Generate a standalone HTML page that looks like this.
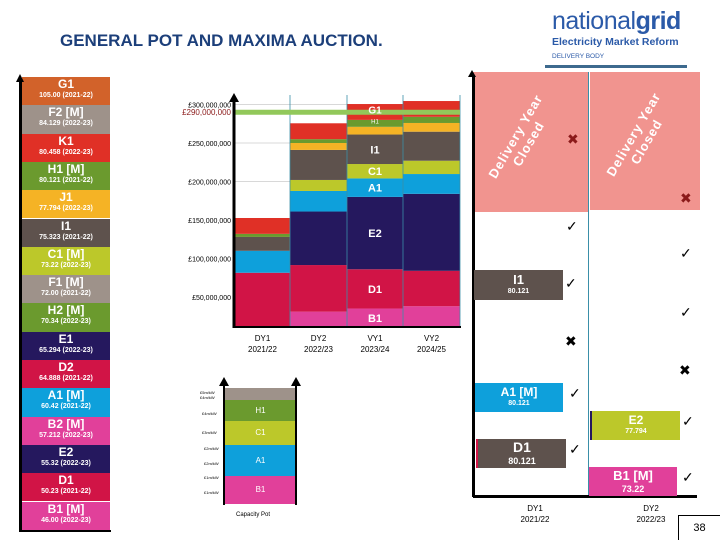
<!DOCTYPE html>
<html><head><meta charset="utf-8">
<style>
*{margin:0;padding:0;box-sizing:border-box}
body{width:720px;height:540px;position:relative;overflow:hidden;background:#fff;font-family:"Liberation Sans",sans-serif}
.abs{position:absolute}
.lb{position:absolute;left:22px;width:88px;color:#fff;text-align:center;font-weight:bold;overflow:hidden}
.lb .n{font-size:12px;line-height:13px;margin-top:1px}
.lb .s{font-size:7px;line-height:9px}
.box{position:absolute;color:#fff;text-align:center;font-weight:bold}
.mk{position:absolute;font-size:14px;color:#000}
.xl{position:absolute;font-size:8px;text-align:center;width:60px;line-height:11px}
.rot{position:absolute;width:120px;transform:translate(-50%,-50%) rotate(-60deg);color:#fff;font-weight:bold;font-size:13px;line-height:15px;text-align:center;letter-spacing:1px}
</style></head><body>
<div class="abs" style="left:60px;top:31px;font-size:17px;font-weight:bold;color:#1c3f7a">GENERAL POT AND MAXIMA AUCTION.</div>
<div class="abs" style="left:552px;top:6px;width:140px">
 <div style="font-size:25px;color:#2b5aa8;letter-spacing:-0.5px;line-height:30px">national<b>grid</b></div>
 <div style="font-size:10.5px;font-weight:bold;color:#2b5aa8;line-height:13px">Electricity Market Reform</div>
 <div style="font-size:6.5px;color:#2b5aa8;margin-top:4px">DELIVERY BODY</div>
</div>
<div class="abs" style="left:545px;top:65px;width:142px;height:3px;background:#3d6a8e"></div>

<div id="left"></div>
<div class="abs" style="left:19px;top:80px;width:3px;height:452px;background:#000"></div>
<div class="abs" style="left:19px;top:530px;width:92px;height:2px;background:#000"></div>
<div class="abs" style="left:16px;top:74px;width:0;height:0;border-left:4px solid transparent;border-right:4px solid transparent;border-bottom:8px solid #000"></div>

<svg id="chart" class="abs" style="left:0;top:0" width="720" height="540"></svg>

<div class="abs" style="left:473px;top:72px;width:115px;height:140px;background:#f1948f"></div>
<div class="abs" style="left:590px;top:72px;width:110px;height:138px;background:#f1948f"></div>
<div class="rot" style="left:522px;top:140px">Delivery Year<br>Closed</div>
<div class="rot" style="left:640px;top:138px">Delivery Year<br>Closed</div>
<div class="abs" style="left:472px;top:75px;width:3px;height:422px;background:#000"></div>
<div class="abs" style="left:468px;top:70px;border-left:4px solid transparent;border-right:4px solid transparent;border-bottom:7px solid #000"></div>
<div class="abs" style="left:588px;top:72px;width:1px;height:425px;background:#3a8fa8"></div>
<div class="abs" style="left:473px;top:495px;width:224px;height:3px;background:#000"></div>
<div class="mk" style="left:567px;top:131px;color:#8b1a1a">✖</div>
<div class="mk" style="left:680px;top:190px;color:#8b1a1a">✖</div>
<div class="mk" style="left:566px;top:218px">✓</div>
<div class="mk" style="left:680px;top:245px">✓</div>
<div class="mk" style="left:565px;top:275px">✓</div>
<div class="mk" style="left:680px;top:304px">✓</div>
<div class="mk" style="left:565px;top:333px">✖</div>
<div class="mk" style="left:679px;top:362px">✖</div>
<div class="box" style="left:474px;top:270px;width:89px;height:30px;background:#5e524d"><div style="font-size:13px;line-height:16px;margin-top:2px">I1</div><div style="font-size:7px">80.121</div></div>
<div class="box" style="left:475px;top:383px;width:88px;height:29px;background:#0ea0db"><div style="font-size:12px;line-height:15px;margin-top:2px">A1 [M]</div><div style="font-size:7px">80.121</div></div>
<div class="box" style="left:476px;top:439px;width:90px;height:29px;background:#5e524d;border-left:2px solid #d11446"><div style="font-size:14px;line-height:17px">D1</div><div style="font-size:9px">80.121</div></div>
<div class="box" style="left:590px;top:411px;width:90px;height:29px;background:#bcc82a;border-left:2px solid #25185e"><div style="font-size:12px;line-height:15px;margin-top:2px">E2</div><div style="font-size:7px">77.794</div></div>
<div class="box" style="left:589px;top:467px;width:88px;height:29px;background:#e1409a"><div style="font-size:13px;line-height:16px;margin-top:1px">B1 [M]</div><div style="font-size:9px">73.22</div></div>
<div class="mk" style="left:569px;top:385px">✓</div>
<div class="mk" style="left:569px;top:441px">✓</div>
<div class="mk" style="left:682px;top:413px">✓</div>
<div class="mk" style="left:682px;top:469px">✓</div>
<div class="xl" style="left:505px;top:503px">DY1<br>2021/22</div>
<div class="xl" style="left:621px;top:503px">DY2<br>2022/23</div>
<div class="abs" style="left:678px;top:515px;width:42px;height:25px;border-left:1px solid #000;border-top:1px solid #000;font-size:11px;text-align:center;line-height:24px">38</div>

<div class="abs" style="left:224px;top:388px;width:73px;height:116px;border:1px solid #000;border-top:none"></div>
<div class="abs" style="left:224px;top:388px;width:73px;height:12px;background:#9e928a"></div>
<div class="abs" style="left:224px;top:400px;width:73px;height:21px;background:#6b9a2e;color:#fff;font-size:8px;text-align:center;line-height:21px">H1</div>
<div class="abs" style="left:224px;top:421px;width:73px;height:24px;background:#bcc82a;color:#fff;font-size:8px;text-align:center;line-height:24px">C1</div>
<div class="abs" style="left:224px;top:445px;width:73px;height:31px;background:#0ea0db;color:#fff;font-size:8px;text-align:center;line-height:31px">A1</div>
<div class="abs" style="left:224px;top:476px;width:73px;height:28px;background:#e1409a;color:#fff;font-size:8px;text-align:center;line-height:28px">B1</div>
<div class="abs" style="left:223px;top:385px;width:2px;height:120px;background:#000"></div>
<div class="abs" style="left:295px;top:385px;width:2px;height:120px;background:#000"></div>
<div class="abs" style="left:219px;top:377px;border-left:5px solid transparent;border-right:5px solid transparent;border-bottom:9px solid #000"></div>
<div class="abs" style="left:291px;top:377px;border-left:5px solid transparent;border-right:5px solid transparent;border-bottom:9px solid #000"></div>
<div class="abs" style="left:236px;top:512px;font-size:6px">Capacity Pot</div>
<div class="abs" style="left:200px;top:390px;font-size:4px;line-height:5px">£5m/kW<br>£4m/kW</div>
<div class="abs" style="left:202px;top:411px;font-size:4px">£4m/kW</div>
<div class="abs" style="left:202px;top:430px;font-size:4px">£3m/kW</div>
<div class="abs" style="left:204px;top:446px;font-size:4px">£2m/kW</div>
<div class="abs" style="left:204px;top:461px;font-size:4px">£2m/kW</div>
<div class="abs" style="left:204px;top:475px;font-size:4px">£1m/kW</div>
<div class="abs" style="left:204px;top:490px;font-size:4px">£1m/kW</div>

<script>
const leftNames=["G1","F2 [M]","K1","H1 [M]","J1","I1","C1 [M]","F1 [M]","H2 [M]","E1","D2","A1 [M]","B2 [M]","E2","D1","B1 [M]"];
const leftSubs=["105.00 (2021-22)","84.129 (2022-23)","80.458 (2022-23)","80.121 (2021-22)","77.794 (2022-23)","75.323 (2021-22)","73.22 (2022-23)","72.00 (2021-22)","70.34 (2022-23)","65.294 (2022-23)","64.888 (2021-22)","60.42 (2021-22)","57.212 (2022-23)","55.32 (2022-23)","50.23 (2021-22)","46.00 (2022-23)"];
const leftColors=["#d2622a","#9e928a","#e03026","#6b9a2e","#f5b325","#5e524d","#bcc82a","#9e928a","#6b9a2e","#25185e","#d11446","#0ea0db","#e1409a","#25185e","#d11446","#e1409a"];
const L=document.getElementById('left');
leftNames.forEach((n,i)=>{
  const d=document.createElement('div');
  d.className='lb';
  
  
  d.style.top=(77+i*28.3)+'px';d.style.height='28.3px';d.style.background=leftColors[i];
  d.innerHTML='<div class="n">'+n+'</div><div class="s">'+leftSubs[i]+'</div>';
  L.appendChild(d);
});

const years=["DY1|2021/22","DY2|2022/23","VY1|2023/24","VY2|2024/25"];
const segNames=["B1","D1","E2","A1","C1","I1","J1","H1","K1"];
const segColors=["#e1409a","#d11446","#25185e","#0ea0db","#bcc82a","#5e524d","#f5b325","#6b9a2e","#e03026"];
const segB1=[11,31,35,38];
const segD1=[81.5,91.5,86,84];
const segE2=[81.5,161,180,184];
const segA1=[110,187.7,204,209.7];
const segC1=[110,202,222.7,227];
const segI1=[128,241,261,264.7];
const segJ1=[128,250,271,276];
const segH1=[132,255,280,284];
const segK1=[152.6,275.6,300.6,304.5];
const tops=[segB1,segD1,segE2,segA1,segC1,segI1,segJ1,segH1,segK1];
const ticks=[50,100,150,200,250,300];
const tickLabels=["£50,000,000","£100,000,000","£150,000,000","£200,000,000","£250,000,000","£300,000,000"];
const target=290;
const base=11;
const y=v=>335.5-0.77*v;
const colEdges=[235,290,347,403,460];
const svg=document.getElementById('chart');const NS='http://www.w3.org/2000/svg';
function el(t,a){const e=document.createElementNS(NS,t);for(const k in a)e.setAttribute(k,a[k]);svg.appendChild(e);return e;}
ticks.forEach((t,i)=>{
  const g=el('line',{x1:235,x2:460,y1:y(t),y2:y(t),stroke:'#d8d8d8','stroke-width':1});
  
  
  const tx=el('text',{x:231,y:y(t)+3,'text-anchor':'end','font-size':7,'font-family':'Liberation Sans'});
  tx.textContent=tickLabels[i];
  
  
});
years.forEach((yr,j)=>{
  let prev=base;
  tops.forEach((arr,s)=>{
    const v=arr[j];
    if(v>prev){
      const r=el('rect',{x:colEdges[j],y:y(v),width:colEdges[j+1]-colEdges[j],height:y(prev)-y(v),fill:segColors[s]});
      
      
    }
    prev=Math.max(prev,v);
  });
  const p=yr.split('|');
  [p[0],p[1]].forEach((s,k)=>{
    const t=el('text',{x:(colEdges[j]+colEdges[j+1])/2,y:341+k*11,'text-anchor':'middle','font-size':8,'font-family':'Liberation Sans'});
    t.textContent=s;
    
    
  });
});
for(let j=1;j<colEdges.length;j++){el('line',{x1:colEdges[j],x2:colEdges[j],y1:95,y2:327,stroke:'#3a8fa8','stroke-width':0.8});}
const lab=[["B1",0],["D1",1],["E2",2],["A1",3],["C1",4],["I1",5]];
lab.forEach(l=>{
  const lo=l[1]===0?base:tops[l[1]-1][2], hi=tops[l[1]][2];
  const t=el('text',{x:375,y:(y(lo)+y(hi))/2+4,'text-anchor':'middle','font-size':11,'font-weight':'bold',fill:'#fff','font-family':'Liberation Sans'});
  t.textContent=l[0];
  
  
});
const tl=el('line',{x1:234,x2:460,y1:y(target),y2:y(target),stroke:'#92c85a','stroke-width':5});


const tt=el('text',{x:231,y:y(target)+3,'text-anchor':'end','font-size':8,fill:'#8b1a1a','font-family':'Liberation Sans'});
tt.textContent='£290,000,000';


const g1=el('text',{x:375,y:y(300)+9,'text-anchor':'middle','font-size':10,'font-weight':'bold',fill:'#fff','font-family':'Liberation Sans'});g1.textContent='G1';
const h1=el('text',{x:375,y:y(282)+5,'text-anchor':'middle','font-size':6,fill:'#fff','font-family':'Liberation Sans'});h1.textContent='H1';
el('line',{x1:234,x2:234,y1:100,y2:328,stroke:'#000','stroke-width':3});
el('line',{x1:233,x2:461,y1:327,y2:327,stroke:'#000','stroke-width':2});
el('polygon',{points:'229,102 239,102 234,93',fill:'#000'});
</script>
</body></html>
